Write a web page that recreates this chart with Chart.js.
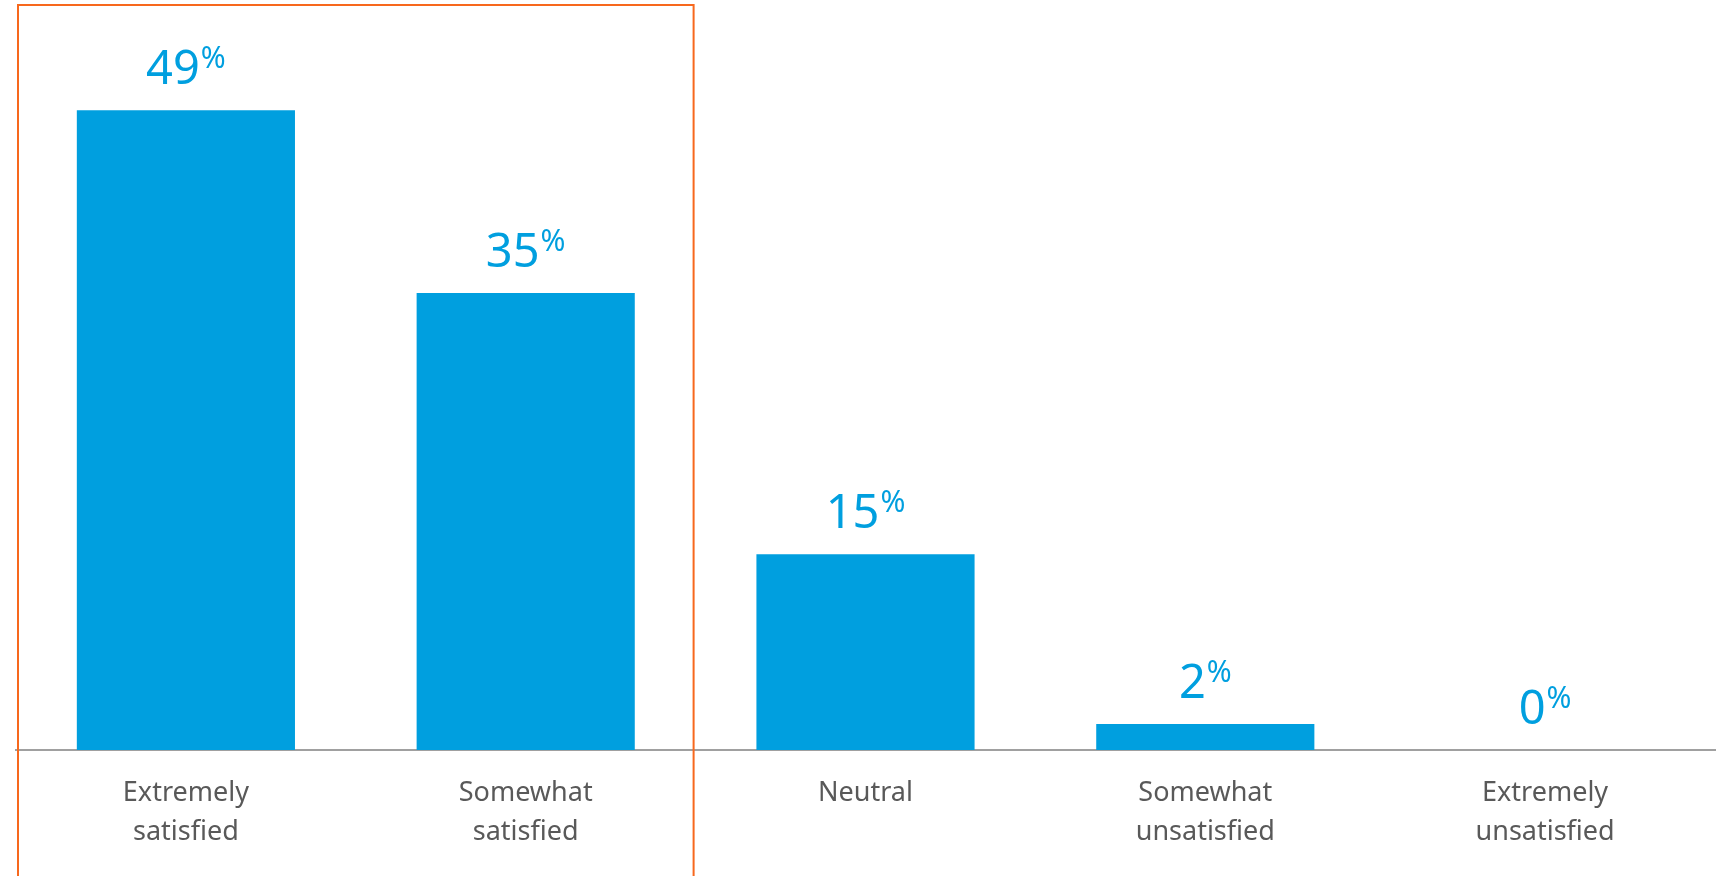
<!DOCTYPE html>
<html>
<head>
<meta charset="utf-8">
<title>Satisfaction</title>
<script src="https://cdn.jsdelivr.net/npm/chart.js@4"></script>
<style>
  html, body { margin: 0; padding: 0; background: #fff; }
  #wrap { width: 1732px; height: 876px; position: relative; }
</style>
</head>
<body>
<div id="wrap"><canvas id="mainChart"></canvas></div>
<script>
// --- DATA ---
const categories = [
    ['Extremely', 'satisfied'],
    ['Somewhat', 'satisfied'],
    'Neutral',
    ['Somewhat', 'unsatisfied'],
    ['Extremely', 'unsatisfied']
];
const shares = [49, 35, 15, 2, 0];
const highlighted = [0, 1]; // categories inside the orange frame

const BLUE = '#009FDF';
const ORANGE = '#F7681D';
const FONT = "'Noto Sans', sans-serif";

// value labels: big number + small raised percent sign
const valueLabels = {
    id: 'valueLabels',
    afterDatasetsDraw(chart) {
        const ctx = chart.ctx;
        const meta = chart.getDatasetMeta(0);
        ctx.save();
        ctx.fillStyle = BLUE;
        ctx.textBaseline = 'alphabetic';
        ctx.textAlign = 'left';
        meta.data.forEach((bar, i) => {
            const num = String(shares[i]);
            ctx.font = '47px ' + FONT;
            const wNum = ctx.measureText(num).width;
            ctx.font = '30px ' + FONT;
            const wPct = ctx.measureText('%').width;
            const gap = 1;
            const left = bar.x - (wNum + gap + wPct) / 2;
            const base = bar.y - 26;
            ctx.font = '47px ' + FONT;
            ctx.fillText(num, left, base);
            ctx.font = '30px ' + FONT;
            ctx.fillText('%', left + wNum + gap, base - 16);
        });
        ctx.restore();
    }
};

// orange frame around the first group of categories
const frame = {
    id: 'frame',
    afterDraw(chart) {
        const x = chart.scales.x;
        const ctx = chart.ctx;
        const first = highlighted[0];
        const last = highlighted[highlighted.length - 1];
        const left = x.getPixelForValue(first) - (x.getPixelForValue(1) - x.getPixelForValue(0)) / 2 + 2;
        const right = (x.getPixelForValue(last) + x.getPixelForValue(last + 1)) / 2 - 2;
        ctx.save();
        ctx.strokeStyle = ORANGE;
        ctx.lineWidth = 2;
        ctx.beginPath();
        ctx.moveTo(left, chart.height + 5);
        ctx.lineTo(left, 5);
        ctx.lineTo(right, 5);
        ctx.lineTo(right, chart.height + 5);
        ctx.stroke();
        ctx.restore();
    }
};

const ctx = document.getElementById('mainChart').getContext('2d');
new Chart(ctx, {
    type: 'bar',
    data: {
        labels: categories,
        datasets: [{
            data: shares,
            backgroundColor: BLUE,
            borderWidth: 0,
            categoryPercentage: 0.642,
            barPercentage: 1
        }]
    },
    options: {
        responsive: true,
        maintainAspectRatio: false,
        animation: false,
        layout: { padding: { left: 16, right: 17, top: 32, bottom: 0 } },
        plugins: {
            legend: { display: false },
            tooltip: { enabled: false }
        },
        scales: {
            x: {
                grid: { display: false, drawTicks: false },
                border: { display: true, color: '#A0A0A0', width: 2 },
                ticks: {
                    color: '#595959',
                    font: { family: FONT, size: 27, lineHeight: 1.45 },
                    padding: 24,
                    maxRotation: 0,
                    autoSkip: false
                },
                afterFit(scale) { scale.height = 126; }
            },
            y: {
                display: false,
                min: 0,
                max: 55
            }
        }
    },
    plugins: [valueLabels, frame]
});
</script>
</body>
</html>
